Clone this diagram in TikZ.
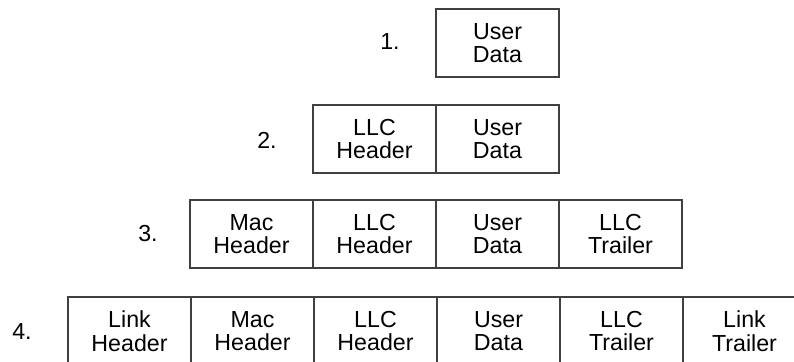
\documentclass[tikz,border=0pt]{standalone}
\usepackage{fontspec}
\setmainfont{Liberation Sans}
\usetikzlibrary{positioning}

\begin{document}
\begin{tikzpicture}[x=0.5pt,y=-0.5pt,
		field/.style={draw=black!75,line width=0.7pt,minimum width=61.5pt,minimum height=34pt,inner sep=0pt,outer sep=0pt,align=center,font=\fontsize{11.6}{11.8}\selectfont},
		num/.style={font=\fontsize{11.6}{11.8}\selectfont}
		]
		\useasboundingbox (0,0) rectangle (794,362);
		% 1.
		\node[field] (d1) at (497.5,43) {User\\Data};
		\node[num] (n1) at (390,42) {1.};
		% 2.
		\node[field] (lh2) at (374.5,139) {LLC\\Header};
		\node[field,right=0pt of lh2] (d2) {User\\Data};
		\node[num] (n2) at (267,140) {2.};
		% 3.
		\node[field] (mh3) at (251.5,234) {Mac\\Header};
		\node[field,right=0pt of mh3] (lh3) {LLC\\Header};
		\node[field,right=0pt of lh3] (d3) {User\\Data};
		\node[field,right=0pt of d3] (lt3) {LLC\\Trailer};
		\node[num] (n3) at (148,234) {3.};
		% 4.
		\node[field] (kh4) at (129.5,331) {Link\\Header};
		\node[field,right=0pt of kh4] (mh4) {Mac\\Header};
		\node[field,right=0pt of mh4] (lh4) {LLC\\Header};
		\node[field,right=0pt of lh4] (d4) {User\\Data};
		\node[field,right=0pt of d4] (lt4) {LLC\\Trailer};
		\node[field,right=0pt of lt4] (kt4) {Link\\Trailer};
		\node[num] (n4) at (22,332) {4.};
\end{tikzpicture}
\end{document}
